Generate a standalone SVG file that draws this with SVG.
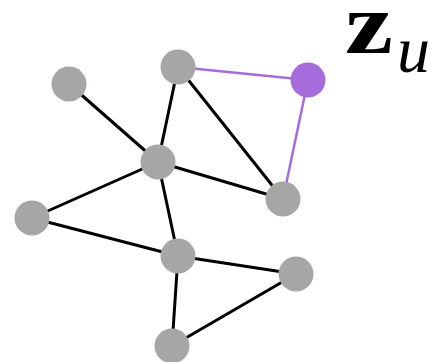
<svg xmlns="http://www.w3.org/2000/svg" width="437" height="362" viewBox="0 0 437 362">
  <style>
    .edge { stroke: #000; stroke-width: 3; fill: none; stroke-linecap: round; }
    .edge-hi { stroke: #a66cdb; stroke-width: 2.5; fill: none; }
    .node { fill: #a5a7a5; }
    .node-hi { fill: #a66cdb; }
    .lbl { font-family: "Liberation Serif", "DejaVu Serif", serif; fill: #000; }
  </style>
  <rect width="437" height="362" fill="#fff"/>
  <g id="connectors">
    <line class="edge" x1="69" y1="84" x2="158" y2="162"/>
    <line class="edge" x1="178" y1="67" x2="158" y2="162"/>
    <line class="edge" x1="178" y1="67" x2="283" y2="199"/>
    <line class="edge" x1="158" y1="162" x2="283" y2="199"/>
    <line class="edge" x1="158" y1="162" x2="32" y2="218"/>
    <line class="edge" x1="158" y1="162" x2="178" y2="256"/>
    <line class="edge" x1="32" y1="218" x2="178" y2="256"/>
    <line class="edge" x1="178" y1="256" x2="296" y2="274"/>
    <line class="edge" x1="178" y1="256" x2="172" y2="346"/>
    <line class="edge" x1="172" y1="346" x2="296" y2="274"/>
    <line class="edge-hi" x1="178" y1="67" x2="308" y2="80"/>
    <line class="edge-hi" x1="308" y1="80" x2="283" y2="199"/>
  </g>
  <g id="n1"><circle class="node" cx="69" cy="84" r="17.5"/></g>
  <g id="n2"><circle class="node" cx="178" cy="67" r="17.5"/></g>
  <g id="u"><circle class="node-hi" cx="308" cy="80" r="17.5"/></g>
  <g id="n3"><circle class="node" cx="158" cy="162" r="17.5"/></g>
  <g id="n4"><circle class="node" cx="283" cy="199" r="17.5"/></g>
  <g id="n5"><circle class="node" cx="32" cy="218" r="17.5"/></g>
  <g id="n6"><circle class="node" cx="178" cy="256" r="17.5"/></g>
  <g id="n7"><circle class="node" cx="296" cy="274" r="17.5"/></g>
  <g id="n8"><circle class="node" cx="172" cy="346" r="17.5"/></g>
  <g id="label">
    <text class="lbl" x="345" y="53" font-size="86" font-weight="bold" textLength="48" lengthAdjust="spacingAndGlyphs">z</text>
    <text class="lbl" x="397" y="72" font-size="66" font-style="italic">u</text>
  </g>
</svg>
